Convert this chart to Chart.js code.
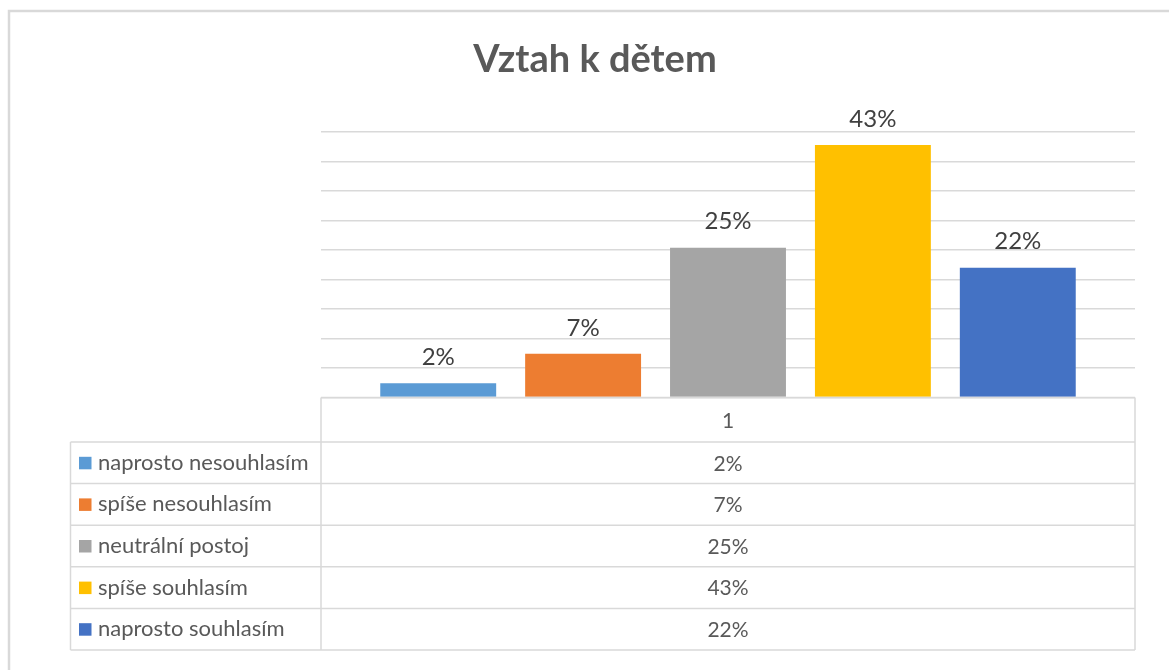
<!DOCTYPE html>
<html>
<head>
<meta charset="utf-8">
<script src="https://cdn.jsdelivr.net/npm/chart.js@4/dist/chart.umd.min.js"></script>
<style>
  html, body { margin: 0; padding: 0; background: #fff; }
  #c { display: block; }
</style>
</head>
<body>
<canvas id="c" width="1169" height="670"></canvas>
<script>
// ---- data ----
const chartTitle = 'Vztah k dětem';
const categories = ['1'];
const seriesNames = ['naprosto nesouhlasím', 'spíše nesouhlasím', 'neutrální postoj', 'spíše souhlasím', 'naprosto souhlasím'];
const seriesValues = [0.024, 0.074, 0.254, 0.428, 0.22];
const yMax = 0.45;
const yStep = 0.05;

// ---- styles ----
const palette = ['#5B9BD5', '#ED7D31', '#A5A5A5', '#FFC000', '#4472C4'];
const FONT = 'Lato, "Open Sans", "Liberation Sans", sans-serif';
const lineColor = '#d9d9d9';
const pct = v => Math.round(v * 100) + '%';

const decorPlugin = {
  id: 'decor',
  beforeDraw(chart) {
    const ctx = chart.ctx;
    ctx.save();
    ctx.fillStyle = '#fff';
    ctx.fillRect(0, 0, chart.width, chart.height);
    ctx.strokeStyle = lineColor;
    ctx.lineWidth = 2.5;
    ctx.strokeRect(9, 11, 1300, 800);
    ctx.restore();
  },
  afterDraw(chart) {
    const ctx = chart.ctx;
    const area = chart.chartArea;
    ctx.save();
    // title
    ctx.fillStyle = '#595959';
    ctx.font = 'bold 38px ' + FONT;
    ctx.textAlign = 'center';
    ctx.textBaseline = 'alphabetic';
    ctx.fillText(chartTitle, 595, 72);

    // data labels above bars
    ctx.fillStyle = '#404040';
    ctx.font = '24px ' + FONT;
    ctx.textBaseline = 'middle';
    chart.data.datasets.forEach((ds, i) => {
      const meta = chart.getDatasetMeta(i);
      meta.data.forEach((bar, j) => {
        ctx.fillText(pct(ds.data[j]), bar.x, bar.y - 26);
      });
    });

    // data table
    const left = 70.5, mid = area.left, right = area.right;
    const top = area.bottom;
    const headH = 44.5;
    const rowH = 41.6;
    const n = seriesNames.length;
    const bottom = top + headH + rowH * n;
    ctx.strokeStyle = lineColor;
    ctx.lineWidth = 1.5;
    ctx.beginPath();
    ctx.moveTo(mid, top); ctx.lineTo(right, top);
    ctx.moveTo(mid, top); ctx.lineTo(mid, bottom);
    ctx.moveTo(right, top); ctx.lineTo(right, bottom);
    ctx.moveTo(left, top + headH); ctx.lineTo(left, bottom);
    for (let r = 0; r <= n; r++) {
      const y = top + headH + rowH * r;
      ctx.moveTo(left, y); ctx.lineTo(right, y);
    }
    ctx.stroke();

    const cx = (mid + right) / 2;
    ctx.textBaseline = 'middle';
    ctx.fillStyle = '#595959';
    ctx.font = '21px ' + FONT;
    ctx.textAlign = 'center';
    ctx.fillText(categories[0], cx, top + headH / 2 + 1);
    for (let r = 0; r < n; r++) {
      const yc = top + headH + rowH * r + rowH / 2;
      ctx.font = '21px ' + FONT;
      ctx.textAlign = 'center';
      ctx.fillStyle = '#595959';
      ctx.fillText(pct(seriesValues[r]), cx, yc + 1);
      ctx.fillStyle = palette[r];
      ctx.fillRect(79, yc - 6, 12.5, 12.5);
      ctx.fillStyle = '#595959';
      ctx.textAlign = 'left';
      ctx.font = '22px ' + FONT;
      ctx.fillText(seriesNames[r], 98, yc);
    }
    ctx.restore();
  }
};

new Chart(document.getElementById('c'), {
  type: 'bar',
  data: {
    labels: categories,
    datasets: seriesNames.map((name, i) => ({
      label: name,
      data: [seriesValues[i]],
      backgroundColor: palette[i],
      borderWidth: 0,
      categoryPercentage: 0.89,
      barPercentage: 0.8
    }))
  },
  options: {
    responsive: false,
    animation: false,
    devicePixelRatio: 1,
    layout: { padding: { left: 321, right: 34, top: 132, bottom: 272.5 } },
    scales: {
      x: { display: false },
      y: {
        min: 0, max: yMax,
        ticks: { display: false, stepSize: yStep },
        grid: { color: lineColor, lineWidth: 1.5, drawTicks: false },
        border: { display: false },
        afterFit(s) { s.width = 0; }
      }
    },
    plugins: {
      legend: { display: false },
      tooltip: { enabled: false },
      title: { display: false }
    }
  },
  plugins: [decorPlugin]
});
</script>
</body>
</html>
